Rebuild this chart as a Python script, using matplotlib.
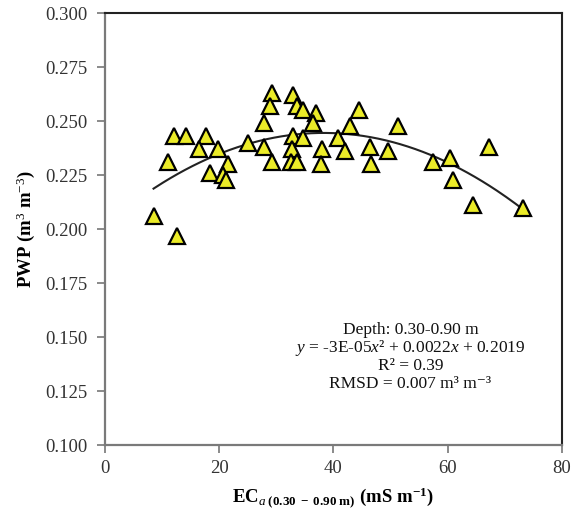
import numpy as np
import matplotlib
matplotlib.use("Agg")
import matplotlib.pyplot as plt

plt.rcParams['font.family'] = ['Liberation Serif', 'DejaVu Serif']
plt.rcParams['mathtext.fontset'] = 'custom'
plt.rcParams['mathtext.rm'] = 'Liberation Serif'
plt.rcParams['mathtext.it'] = 'Liberation Serif:italic'
plt.rcParams['mathtext.bf'] = 'Liberation Serif:bold'

ec_a = [8.5, 12.6, 11.1, 12.1, 14.2, 17.7, 16.5, 19.8, 18.4, 21.6, 20.7, 21.2,
        25.0, 27.9, 29.2, 28.9, 27.9, 29.2, 33.0, 33.7, 34.6, 36.9, 36.5, 33.0,
        34.7, 32.7, 32.6, 33.6, 38.0, 37.8, 40.8, 44.5, 42.9, 51.3, 42.0, 46.4,
        49.6, 46.6, 57.4, 60.5, 60.9, 67.3, 64.5, 73.2]
pwp = [0.206, 0.197, 0.231, 0.243, 0.243, 0.243, 0.237, 0.237, 0.226, 0.230, 0.225, 0.223,
       0.240, 0.238, 0.263, 0.257, 0.249, 0.231, 0.262, 0.257, 0.255, 0.254, 0.249, 0.243,
       0.242, 0.237, 0.231, 0.231, 0.237, 0.230, 0.242, 0.255, 0.248, 0.248, 0.236, 0.238,
       0.236, 0.230, 0.231, 0.233, 0.223, 0.238, 0.211, 0.210]

x_ticks = [0, 20, 40, 60, 80]
y_ticks = [0.100, 0.125, 0.150, 0.175, 0.200, 0.225, 0.250, 0.275, 0.300]
annot = ["Depth: 0.30-0.90 m",
         r"$y$ = -3E-05$x$² + 0.0022$x$ + 0.2019",
         "R² = 0.39",
         "RMSD = 0.007 m³ m⁻³"]

x = np.array(ec_a)
y = np.array(pwp)
coef = np.polyfit(x, y, 2)
xf = np.linspace(x.min(), x.max(), 200)
yf = np.polyval(coef, xf)

fig = plt.figure(figsize=(5.72, 5.09), dpi=100)
ax = fig.add_axes([0.1836, 0.1257, 0.7984, 0.8482])
ax.plot(xf, yf, color='#222222', lw=1.5, zorder=2)
ax.plot(x, y, linestyle='none', marker='^', markersize=11,
        markerfacecolor='#EBEB28', markeredgecolor='black', markeredgewidth=1.6, zorder=3)

ax.set_xlim(0, 80)
ax.set_ylim(0.1, 0.3)
ax.set_xticks(x_ticks)
ax.set_yticks(y_ticks)
ax.set_yticklabels([f"{v:.3f}" for v in y_ticks])
ax.tick_params(direction='out', length=5.5, width=1.2, labelsize=13.5,
               color='#777777', labelcolor='#333333')
ax.tick_params(axis='y', pad=7)
ax.tick_params(axis='x', pad=5)
for s in ['left', 'bottom']:
    ax.spines[s].set_color('#7a7a7a')
    ax.spines[s].set_linewidth(1.6)
for s in ['top', 'right']:
    ax.spines[s].set_color('#222222')
    ax.spines[s].set_linewidth(1.5)

ax.set_ylabel(r"PWP (m$^{3}$ m$^{-3}$)", fontsize=13.5, fontweight='bold', labelpad=6)
ax.set_xlabel(r"EC$_{\mathbf{\mathit{a}}\ \mathbf{(0.30\ -\ 0.90\ m)}}$ (mS m$^{\mathbf{-1}}$)",
              fontsize=13.5, fontweight='bold', labelpad=7)

ys = [0.1534, 0.1450, 0.1367, 0.1284]
for t, yy in zip(annot, ys):
    ax.text(53.5, yy, t, ha='center', va='center', fontsize=12.5, color='#111111')

fig.savefig("out.png", dpi=100)
